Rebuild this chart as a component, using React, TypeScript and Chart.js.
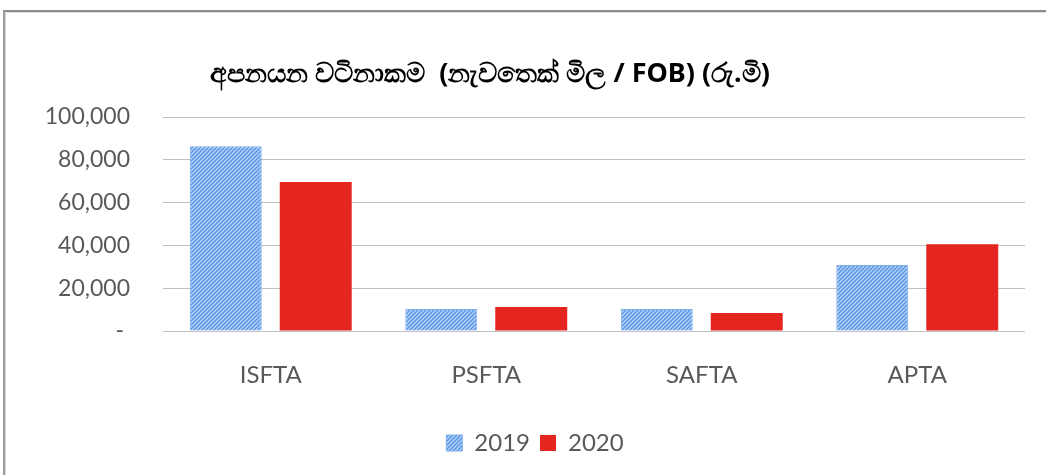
import React, { useEffect, useRef } from "react";
import { Chart, registerables } from "chart.js";

Chart.register(...registerables);

const TITLE = "අපනයන වටිනාකම  (නැවතෙක් මිල / FOB) (රු.මි)";
const CATEGORIES = ["ISFTA", "PSFTA", "SAFTA", "APTA"];
const SERIES_NAMES = ["2019", "2020"];
const VALUES_2019 = [86300, 10300, 10300, 30800];
const VALUES_2020 = [69600, 11200, 8400, 40500];
const Y_MAX = 100000;
const Y_STEP = 20000;

const FONT = "Lato, 'Noto Sans', sans-serif";

function makeHatch(): CanvasPattern | string {
  const c = document.createElement("canvas");
  c.width = 4;
  c.height = 4;
  const g = c.getContext("2d");
  if (!g) return "#8DB8EE";
  g.fillStyle = "#B3D0F5";
  g.fillRect(0, 0, 4, 4);
  g.strokeStyle = "#5593E4";
  g.lineWidth = 1.3;
  g.beginPath();
  g.moveTo(0, 4);
  g.lineTo(4, 0);
  g.moveTo(-1, 1);
  g.lineTo(1, -1);
  g.moveTo(3, 5);
  g.lineTo(5, 3);
  g.stroke();
  const ctx = document.createElement("canvas").getContext("2d");
  return ctx ? (ctx.createPattern(c, "repeat") as CanvasPattern) : "#8DB8EE";
}

const titlePlugin = {
  id: "customTitle",
  afterDraw(chart: any) {
    const ctx = chart.ctx;
    ctx.save();
    ctx.font = `bold 27px 'Noto Sans', ${FONT}`;
    ctx.fillStyle = "#000000";
    ctx.textAlign = "center";
    ctx.textBaseline = "middle";
    ctx.fillText(TITLE, 490, 74);
    ctx.restore();
  },
};

export default function App() {
  const ref = useRef<HTMLCanvasElement | null>(null);

  useEffect(() => {
    if (!ref.current) return;
    const hatch = makeHatch();
    const chart = new Chart(ref.current, {
      type: "bar",
      data: {
        labels: CATEGORIES,
        datasets: [
          {
            label: SERIES_NAMES[0],
            data: VALUES_2019,
            backgroundColor: hatch as any,
            borderColor: "#7FB0EC",
            borderWidth: 1,
            barPercentage: 0.8,
            categoryPercentage: 0.835,
          },
          {
            label: SERIES_NAMES[1],
            data: VALUES_2020,
            backgroundColor: "#E52620",
            borderColor: "#E52620",
            borderWidth: 0,
            barPercentage: 0.8,
            categoryPercentage: 0.835,
          },
        ],
      },
      options: {
        animation: false,
        responsive: false,
        layout: { padding: { left: 45, right: 21, top: 117, bottom: 10 } },
        plugins: {
          title: { display: false },
          tooltip: { enabled: false },
          legend: {
            position: "bottom",
            labels: {
              boxWidth: 16,
              boxHeight: 16,
              padding: 10,
              color: "#595959",
              font: { family: FONT, size: 24 },
            },
          },
        },
        scales: {
          x: {
            grid: { display: false, drawTicks: false },
            border: { display: false },
            ticks: {
              color: "#595959",
              padding: 30,
              font: { family: FONT, size: 24 },
            },
            afterFit(scale: any) {
              scale.height = 90;
            },
          },
          y: {
            min: 0,
            max: Y_MAX,
            grid: { color: "#BFBFBF", lineWidth: 1, drawTicks: false },
            border: { display: false },
            ticks: {
              stepSize: Y_STEP,
              color: "#595959",
              padding: 33,
              font: { family: FONT, size: 23 },
              callback: (v: any) =>
                Number(v) === 0 ? "- " : Number(v).toLocaleString("en-US"),
            },
            afterFit(scale: any) {
              scale.width = 118;
            },
          },
        },
      },
      plugins: [titlePlugin],
    });
    return () => chart.destroy();
  }, []);

  return (
    <div
      style={{
        position: "absolute",
        left: 0,
        top: 0,
        width: 1046,
        height: 475,
        background: "#ffffff",
        overflow: "hidden",
      }}
    >
      <div
        style={{
          position: "absolute",
          left: 3,
          top: 10,
          width: 1100,
          height: 500,
          borderTop: "2px solid #8C8C8C",
          borderLeft: "2px solid #9C9C9C",
          boxShadow: "inset 1px 1px 1px #DADADA",
        }}
      />
      <canvas
        ref={ref}
        width={1046}
        height={475}
        style={{ position: "absolute", left: 0, top: 0 }}
      />
    </div>
  );
}
